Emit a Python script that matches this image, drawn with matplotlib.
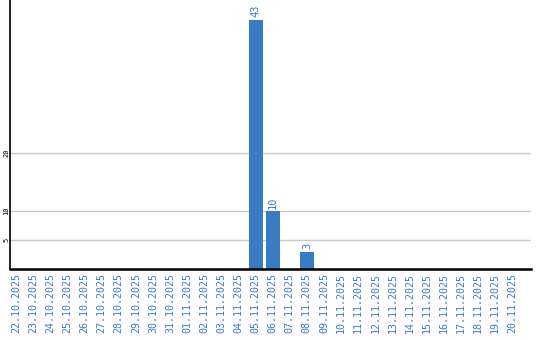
import matplotlib
matplotlib.use("Agg")
import matplotlib.pyplot as plt
import numpy as np

dates = ["22.10.2025", "23.10.2025", "24.10.2025", "25.10.2025", "26.10.2025",
         "27.10.2025", "28.10.2025", "29.10.2025", "30.10.2025", "31.10.2025",
         "01.11.2025", "02.11.2025", "03.11.2025", "04.11.2025", "05.11.2025",
         "06.11.2025", "07.11.2025", "08.11.2025", "09.11.2025", "10.11.2025",
         "11.11.2025", "12.11.2025", "13.11.2025", "14.11.2025", "15.11.2025",
         "16.11.2025", "17.11.2025", "18.11.2025", "19.11.2025", "20.11.2025"]
values = [0, 0, 0, 0, 0, 0, 0, 0, 0, 0, 0, 0, 0, 0, 43, 10, 0, 3, 0, 0,
          0, 0, 0, 0, 0, 0, 0, 0, 0, 0]
yticks = [5, 10, 20]

blue = "#3a7cc4"
fig = plt.figure(figsize=(5.4, 3.4), dpi=100)
ax = fig.add_axes([10/540, 71/340, 521/540, 269/340])
x = np.arange(len(dates))
ax.bar(x, values, width=0.82, color=blue, zorder=3)
for xi, v in zip(x, values):
    if v > 0:
        ax.text(xi, v + 0.4, str(v), rotation=90, ha="center", va="bottom",
                color=blue, fontsize=7.5, family="DejaVu Sans Mono")
ax.set_xlim(-0.35, 30.1)
ax.set_ylim(0, 46.4)
ax.set_yticks(yticks)
ax.set_yticklabels([str(t) for t in yticks], rotation=90, va="center",
                   fontsize=5, family="DejaVu Sans Mono")
ax.set_xticks(x)
ax.set_xticklabels(dates, rotation=90, fontsize=7.2, color=blue,
                   family="DejaVu Sans Mono")
ax.tick_params(axis="x", length=0, pad=3)
ax.tick_params(axis="y", length=0, pad=0.5)
ax.grid(axis="y", color="#c8c8c8", linewidth=1, zorder=0)
for s in ["top", "right"]:
    ax.spines[s].set_visible(False)
ax.spines["left"].set_linewidth(1.2)
ax.spines["bottom"].set_linewidth(1.8)
ax.spines["left"].set_zorder(4)
ax.spines["bottom"].set_zorder(4)
fig.savefig("out.png", dpi=100)
